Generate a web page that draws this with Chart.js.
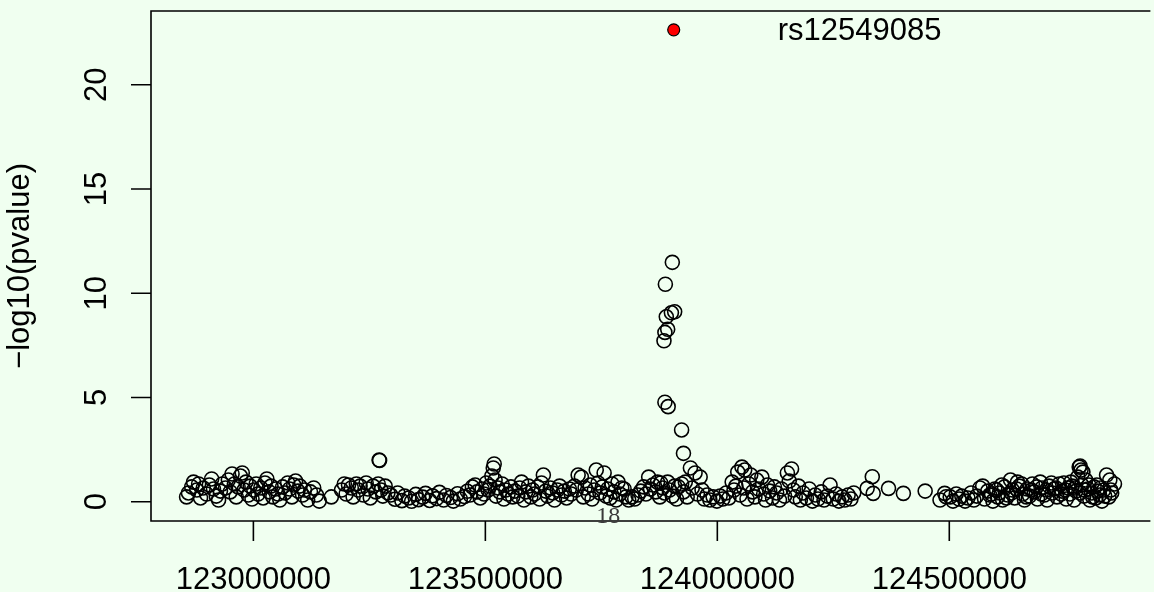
<!DOCTYPE html>
<html>
<head>
<meta charset="utf-8">
<script src="https://cdn.jsdelivr.net/npm/chart.js@4.4.1/dist/chart.umd.min.js"></script>
<style>
  html, body { margin: 0; padding: 0; background: #F0FFF0; overflow: hidden; }
  canvas { display: block; }
</style>
</head>
<body>
<canvas id="assocPlot" width="1154" height="592"></canvas>
<script>
// SNP positions on chr18 (kb) and -log10(pvalue)
const positionsKb = [
  122856,122860,122867,122871,122878,122882,122886,122892,122899,122905,122910,122914,122920,122925,122929,122933,122940,122946,122950,122954,122959,122963,122967,122972,122976,122980,122984,122989,122993,122997,123001,123006,123010,123016,123021,123025,123029,123034,123038,123042,123048,123053,123057,123063,123068,123074,123078,123083,123087,123091,123096,123100,123106,123110,123117,123123,123130,123136,
  123142,123168,
  123190,123196,123200,123205,123211,123215,123222,123226,123230,123237,123243,123247,123252,123258,123264,123269,123271,123272,123275,123279,123284,123290,
  123296,123305,123311,123320,123326,123335,123341,123350,123356,123365,123371,123380,123386,123395,123401,123410,123416,123425,123431,123440,123446,123455,123461,
  123467,123472,123478,123482,123489,123493,123497,123502,123506,123510,123514,123517,123519,123521,123523,123527,123531,123536,123540,123544,123549,123555,123559,123564,
  123570,123574,123578,123583,123587,123593,123598,123602,123606,123613,123617,123621,123625,123630,123634,123640,123645,123649,123655,123660,123664,123670,123675,123681,123685,123692,123696,123700,123707,123711,123715,123722,123726,123730,123735,123739,123743,123747,123752,123756,123760,123764,123769,123773,123777,123782,123786,123790,123794,123799,123803,
  123809,123816,123822,123829,123835,123841,123846,123852,123856,123861,123867,123871,123876,123878,123882,123886,123893,123897,123903,123908,123912,123916,123923,123927,123931,123935,123942,123946,123952,123957,123963,123967,123972,123978,123984,123991,
  123903,123888,123908,123901,123890,123893,123887,123885,123887,123894,123923,123927,
  123999,124006,124012,124019,124025,124032,124036,124040,124044,124049,124053,124057,124059,124064,124068,124072,124076,124081,124085,124089,124096,124100,124104,124108,124113,124119,124123,124128,124134,124138,124145,124151,124155,124160,124164,124168,124175,124179,124185,124192,124198,124205,124211,124217,124224,124230,124237,124243,124250,124256,124262,124269,124275,124282,124288,124294,
  124323,124334,124336,124369,124401,124448,124480,124490,124493,
  124502,124508,124515,124521,124527,124534,124540,124547,124553,124559,124566,124572,124576,124583,124587,124594,124598,124604,124608,124615,124619,124626,124632,124636,124641,124647,124651,124658,124662,124668,124673,124679,124683,124690,124696,124700,124705,124711,124715,124722,124726,124732,124737,124743,124747,124752,124756,124760,124765,124769,124773,124777,124780,124784,124786,124790,124794,124799,124803,124807,124812,124816,124820,124824,124829,124833,124839,124844,124846,124850,124856,
  124591,124602,124613,124623,124634,124645,124656,124666,124677,124688,124698,124709,124720,124730,124741,124750,124762,124771,124782,124792,124801,124809,124818,124826,124835,124848,124782,124788
];
const logP = [
  0.23,0.42,0.71,0.94,0.56,0.85,0.18,0.66,0.37,0.80,1.09,0.61,0.27,0.08,0.51,0.85,0.66,1.04,0.47,1.33,0.85,0.23,0.71,1.23,1.38,0.56,0.94,0.32,0.75,0.13,0.56,0.85,0.37,0.66,0.18,0.90,1.09,0.47,0.75,0.23,0.61,0.37,0.08,0.71,0.42,0.90,0.61,0.23,0.80,0.99,0.51,0.75,0.32,0.56,0.08,0.47,0.66,0.32,
  0.03,0.23,
  0.56,0.85,0.37,0.80,0.66,0.23,0.85,0.56,0.75,0.32,0.90,0.61,0.18,0.75,0.47,0.85,2.00,1.98,0.56,0.27,0.75,0.42,
  0.32,0.12,0.42,0.05,0.27,0.18,0.02,0.35,0.10,0.22,0.40,0.06,0.28,0.15,0.45,0.08,0.30,0.20,0.03,0.38,0.13,0.25,0.50,
  0.32,0.71,0.80,0.47,0.18,0.61,0.37,0.90,0.56,0.75,1.23,1.62,1.81,1.04,0.27,0.66,0.47,0.85,0.13,0.56,0.37,0.71,0.23,0.51,
  0.27,0.66,0.94,0.08,0.47,0.75,0.23,0.56,0.37,0.71,0.13,0.90,1.28,0.51,0.27,0.66,0.42,0.08,0.56,0.75,0.32,0.51,0.18,0.61,0.37,0.75,0.56,1.28,1.18,0.23,0.66,0.37,0.80,0.13,0.56,1.52,0.90,0.42,0.71,1.38,0.27,0.61,0.18,0.85,0.47,0.08,0.94,0.37,0.66,0.61,0.23,
  0.08,0.23,0.13,0.32,0.51,0.71,0.37,1.18,0.61,0.80,0.47,0.94,0.23,0.90,0.66,0.42,0.94,0.56,0.27,0.75,0.13,0.71,0.85,0.47,0.94,0.23,1.62,0.66,1.38,0.37,1.18,0.56,0.13,0.32,0.08,0.23,
  11.48,10.43,9.11,9.06,8.87,8.27,8.12,7.72,4.77,4.56,3.44,2.32,
  0.03,0.27,0.13,0.42,0.18,0.94,0.56,0.75,1.42,0.32,1.66,0.66,1.52,0.13,0.85,1.28,0.47,0.23,1.04,0.61,1.18,0.37,0.08,0.80,0.51,0.18,0.71,0.42,0.08,0.61,0.27,1.38,0.99,1.57,0.56,0.23,0.75,0.08,0.42,0.18,0.61,0.03,0.32,0.13,0.47,0.08,0.27,0.80,0.13,0.37,0.03,0.23,0.08,0.32,0.13,0.42,
  0.64,1.20,0.40,0.64,0.40,0.51,0.08,0.40,0.24,
  0.23,0.03,0.37,0.13,0.27,0.03,0.18,0.42,0.08,0.27,0.66,0.75,0.13,0.51,0.32,0.03,0.61,0.23,0.42,0.08,0.71,0.32,1.04,0.56,0.18,0.94,0.75,0.37,0.08,0.61,0.27,0.85,0.47,0.13,0.94,0.66,0.32,0.08,0.75,0.42,0.61,0.23,0.85,0.51,0.90,0.13,0.66,0.37,0.75,0.08,0.51,1.18,1.66,1.52,0.80,0.27,1.04,0.61,0.08,0.42,0.71,0.18,0.51,0.32,0.03,0.56,1.28,0.23,1.04,0.42,0.85,
  0.37,0.56,0.80,0.18,0.42,0.61,0.85,0.23,0.56,0.71,0.37,0.56,0.90,0.66,0.37,0.56,0.94,0.66,0.42,0.56,0.80,0.23,0.80,0.66,0.27,0.56,1.71,1.42
];

// top hit
const topSnp = 'rs12549085';
const topPosKb = 123906;
const topLogP = 22.63;
const chromLabel = '18';
const chromLabelKb = 123765;

const xTicks = [123000000, 123500000, 124000000, 124500000];
const yTicks = [0, 5, 10, 15, 20];
const yTitle = '\u2212log10(pvalue)';

const snpPoints = positionsKb.map((kb, i) => ({ x: kb * 1000, y: logP[i] }));

const sansFont = '"Liberation Sans", Arial, Helvetica, sans-serif';

// R-style frame, ticks and text
const baseGraphics = {
    id: 'baseGraphics',
    afterDatasetsDraw(chart) {
        const { ctx, chartArea: a, scales: { x, y } } = chart;
        ctx.save();
        ctx.strokeStyle = '#000';
        ctx.lineWidth = 1.6;
        ctx.beginPath();
        ctx.moveTo(a.right + 5, a.top);
        ctx.lineTo(a.left, a.top);
        ctx.lineTo(a.left, a.bottom);
        ctx.lineTo(a.right + 5, a.bottom);
        xTicks.forEach(function (v) {
            const px = x.getPixelForValue(v);
            ctx.moveTo(px, a.bottom);
            ctx.lineTo(px, a.bottom + 20);
        });
        yTicks.forEach(function (v) {
            const py = y.getPixelForValue(v);
            ctx.moveTo(a.left, py);
            ctx.lineTo(a.left - 20, py);
        });
        ctx.stroke();

        ctx.fillStyle = '#000';
        ctx.font = '31px ' + sansFont;
        ctx.textAlign = 'center';
        ctx.textBaseline = 'alphabetic';
        xTicks.forEach(function (v) {
            ctx.fillText(String(v), x.getPixelForValue(v), 589);
        });
        yTicks.forEach(function (v) {
            ctx.save();
            ctx.translate(106, y.getPixelForValue(v));
            ctx.rotate(-Math.PI / 2);
            ctx.fillText(String(v), 0, 0);
            ctx.restore();
        });
        ctx.save();
        ctx.translate(29, (a.top + a.bottom) / 2);
        ctx.rotate(-Math.PI / 2);
        ctx.fillText(yTitle, 0, 0);
        ctx.restore();

        // label to the right of the top hit
        ctx.textAlign = 'left';
        ctx.textBaseline = 'middle';
        ctx.fillText(topSnp, x.getPixelForValue(topPosKb * 1000) + 104, y.getPixelForValue(topLogP) + 2);

        // chromosome number
        ctx.textAlign = 'center';
        ctx.font = '24px "Liberation Serif", "Times New Roman", serif';
        ctx.fillStyle = '#3a3a3a';
        ctx.fillText(chromLabel, x.getPixelForValue(chromLabelKb * 1000), 517);
        ctx.restore();
    }
};

new Chart(document.getElementById('assocPlot'), {
    type: 'scatter',
    data: {
        datasets: [{
            data: snpPoints,
            pointStyle: 'circle',
            pointRadius: 7,
            pointBorderWidth: 1.6,
            pointBorderColor: '#000',
            pointBackgroundColor: 'rgba(0,0,0,0)'
        }, {
            data: [{ x: topPosKb * 1000, y: topLogP }],
            pointRadius: 6,
            pointBorderWidth: 1.2,
            pointBorderColor: '#000',
            pointBackgroundColor: '#FF0000'
        }]
    },
    options: {
        responsive: false,
        animation: false,
        layout: { padding: { left: 151, top: 11, right: 0, bottom: 71 } },
        plugins: { legend: { display: false }, tooltip: { enabled: false } },
        scales: {
            x: { type: 'linear', display: false, min: 122779300, max: 124922700 },
            y: { type: 'linear', display: false, min: -0.925, max: 23.535 }
        }
    },
    plugins: [baseGraphics]
});
</script>
</body>
</html>
